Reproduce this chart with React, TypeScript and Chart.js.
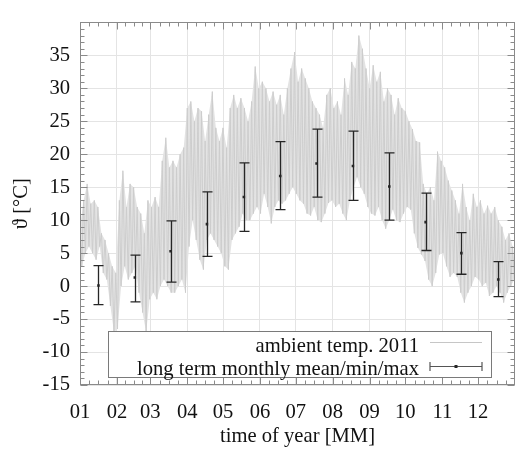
import React, { useEffect, useRef } from "react";
import { Chart, registerables } from "chart.js";

Chart.register(...registerables);

// ---- axis data ----
const monthLabels = ["01", "02", "03", "04", "05", "06", "07", "08", "09", "10", "11", "12"];
const monthStarts = [0, 31, 59, 90, 120, 151, 181, 212, 243, 273, 304, 334];
const yearDays = 365;
const yTickValues = [-15, -10, -5, 0, 5, 10, 15, 20, 25, 30, 35];
const yMin = -15;
const yMax = 40;

// ---- ambient temperature 2011 (3-day envelope: high / low readings) ----
const ambientStep = 3;
const ambientHigh = [
  9, 13, 15.5, 12.5, 13, 12, 8, 7, 5, 3, 2, 13, 17.5, 12, 15.5, 15, 12, 11, 8, 13,
  12, 13.5, 12, 19, 22.5, 18, 19, 18, 20, 21, 27, 28, 25, 27, 26.5, 22, 26, 29.5, 24, 22,
  24, 21, 27, 29, 27, 28.5, 27, 25, 28, 33.3, 30, 31, 30, 28, 29.5, 27.5, 29, 26, 30, 33,
  35.5, 31, 33, 31.5, 30, 28, 27, 26, 24, 29, 30, 27, 28, 26, 31.5, 29, 34, 33, 38, 36,
  33, 30, 33.5, 31, 32.5, 28, 30, 29, 26, 28.5, 27, 26.5, 25, 23.8, 22, 21.8, 15.5, 14, 15, 13,
  20.4, 19, 18, 16, 14.5, 13, 11, 15.5, 12, 10, 14, 12, 13, 11, 12.2, 11, 12, 10, 9, 7,
  8, 6,
];
const ambientLow = [
  3, 5, 6, 5, 4, 6, 2, 1, -3, -7, -6.5, 0, 3, 1, 2, 3, -1, -4, -7, -2,
  -1, -2, 0, 1, 0, -1, -1, 0, 1, -1, 6, 10, 7, 4, 2.5, 7, 8, 7, 6, 5,
  3, 2.5, 7, 8, 9, 11, 10, 10, 11, 12, 11, 14, 12, 9.5, 12, 13, 12.5, 13, 14, 15,
  14, 13, 12.5, 11, 10.7, 12, 10, 9.7, 11, 12.6, 13, 12, 12.5, 11, 10, 13, 15, 16.5, 15, 14,
  12, 11, 10.7, 12, 10, 8.7, 10, 11.6, 10, 9.7, 11, 12, 11.6, 8, 5.8, 4.8, 3.8, 1, 0, 2,
  4.8, 5, 3, 1.4, 2, 1.4, -1, -2.5, -1, 0, 1.4, 1, 0, 0.5, -1.5, -1, 0, -1, -2.5, -1,
  0, 1,
];

// ---- long term monthly mean / min / max ----
const monthlyPos = [15.5, 46, 76, 106.5, 137.5, 168, 198.5, 229, 259.5, 290, 320, 351];
const monthlyMean = [0.1, 1.3, 5.3, 9.4, 13.5, 16.7, 18.6, 18.2, 15.1, 9.7, 5.0, 1.0];
const monthlyMax = [3.1, 4.7, 9.9, 14.3, 18.7, 21.9, 23.8, 23.5, 20.2, 14.1, 8.1, 3.7];
const monthlyMin = [-2.8, -2.4, 0.6, 4.5, 8.3, 11.6, 13.5, 13.0, 10.0, 5.4, 1.8, -1.6];

const seriesLabels = ["ambient temp. 2011", "long term monthly mean/min/max"];

const FONT_FAMILY = "'Liberation Serif', 'DejaVu Serif', 'Times New Roman', serif";
const AMBIENT_COLOR = "#cdcdcd";
const AMBIENT_FILL = "#e3e3e3";
const BAR_COLOR = "#262626";
const AXIS_COLOR = "#8a8a8a";
const GRID_COLOR = "#e4e4e4";

const ambientPoints: { x: number; y: number }[] = [];
ambientHigh.forEach((h, i) => {
  ambientPoints.push({ x: i * ambientStep, y: h });
  ambientPoints.push({ x: i * ambientStep + ambientStep / 2, y: ambientLow[i] });
});
const meanPoints = monthlyPos.map((x, i) => ({ x, y: monthlyMean[i] }));

const bandPlugin = {
  id: "ambientBand",
  beforeDatasetsDraw(chart: any) {
    const { ctx, scales, chartArea } = chart;
    const xs = scales.x;
    const ys = scales.y;
    ctx.save();
    ctx.beginPath();
    ctx.rect(chartArea.left, chartArea.top, chartArea.right - chartArea.left, chartArea.bottom - chartArea.top);
    ctx.clip();
    ctx.fillStyle = AMBIENT_FILL;
    ctx.beginPath();
    ambientHigh.forEach((h, i) => {
      const px = xs.getPixelForValue(i * ambientStep);
      const py = ys.getPixelForValue(h);
      if (i === 0) ctx.moveTo(px, py);
      else ctx.lineTo(px, py);
    });
    for (let i = ambientLow.length - 1; i >= 0; i--) {
      ctx.lineTo(xs.getPixelForValue(i * ambientStep + ambientStep / 2), ys.getPixelForValue(ambientLow[i]));
    }
    ctx.closePath();
    ctx.fill();
    ctx.restore();
  },
};

const errorBarPlugin = {
  id: "errorBars",
  afterDatasetDraw(chart: any, args: any) {
    if (args.index !== 0) return;
    const { ctx, scales } = chart;
    const xs = scales.x;
    const ys = scales.y;
    ctx.save();
    ctx.strokeStyle = BAR_COLOR;
    ctx.lineWidth = 1.3;
    monthlyPos.forEach((p, i) => {
      const px = Math.round(xs.getPixelForValue(p)) + 0.5;
      const yTop = ys.getPixelForValue(monthlyMax[i]);
      const yBot = ys.getPixelForValue(monthlyMin[i]);
      ctx.beginPath();
      ctx.moveTo(px, yTop);
      ctx.lineTo(px, yBot);
      ctx.moveTo(px - 5, yTop);
      ctx.lineTo(px + 5, yTop);
      ctx.moveTo(px - 5, yBot);
      ctx.lineTo(px + 5, yBot);
      ctx.stroke();
    });
    ctx.restore();
  },
};

const frameLegendPlugin = {
  id: "frameLegend",
  afterDraw(chart: any) {
    const { ctx, chartArea, scales } = chart;
    const { left, right, top, bottom } = chartArea;
    const xs = scales.x;
    const ys = scales.y;
    ctx.save();
    ctx.strokeStyle = AXIS_COLOR;
    ctx.lineWidth = 1;
    const L = Math.round(left) + 0.5;
    const R = Math.round(right) - 0.5;
    const T = Math.round(top) + 0.5;
    const B = Math.round(bottom) - 0.5;
    ctx.beginPath();
    for (let v = yMin; v <= yMax; v += 1) {
      const py = Math.round(ys.getPixelForValue(v)) + 0.5;
      const len = v % 5 === 0 ? 7 : 4;
      ctx.moveTo(L, py);
      ctx.lineTo(L + len, py);
      ctx.moveTo(R, py);
      ctx.lineTo(R - len, py);
    }
    const bounds = [...monthStarts, yearDays];
    for (let m = 0; m < monthStarts.length; m++) {
      const a = bounds[m];
      const b = bounds[m + 1];
      for (let k = 0; k < 4; k++) {
        const v = a + ((b - a) * k) / 4;
        const px = Math.round(xs.getPixelForValue(v)) + 0.5;
        const len = k === 0 ? 7 : 4;
        ctx.moveTo(px, B);
        ctx.lineTo(px, B - len);
        ctx.moveTo(px, T);
        ctx.lineTo(px, T + len);
      }
    }
    ctx.stroke();
    ctx.strokeRect(L, T, R - L, B - T);

    // legend (gnuplot style key)
    const bx = 108.5;
    const by = 331.5;
    const bw = 383;
    const bh = 46;
    ctx.fillStyle = "#ffffff";
    ctx.fillRect(bx, by, bw, bh);
    ctx.strokeStyle = "#7a7a7a";
    ctx.strokeRect(bx, by, bw, bh);

    ctx.font = `20.6px ${FONT_FAMILY}`;
    ctx.fillStyle = "#111";
    ctx.textAlign = "right";
    ctx.textBaseline = "alphabetic";
    ctx.fillText(seriesLabels[0], 419, 351.5);
    ctx.fillText(seriesLabels[1], 419, 374.5);

    const s0 = 430;
    const s1 = 482;
    const r1 = 342.5;
    const r2 = 366.5;
    ctx.strokeStyle = "#c6c6c6";
    ctx.lineWidth = 1;
    ctx.beginPath();
    ctx.moveTo(s0, r1);
    ctx.lineTo(s1, r1);
    ctx.stroke();

    ctx.strokeStyle = "#555";
    ctx.lineWidth = 1.2;
    ctx.beginPath();
    ctx.moveTo(s0, r2);
    ctx.lineTo(s1, r2);
    ctx.moveTo(s0, r2 - 4.5);
    ctx.lineTo(s0, r2 + 4.5);
    ctx.moveTo(s1, r2 - 4.5);
    ctx.lineTo(s1, r2 + 4.5);
    ctx.stroke();
    ctx.fillStyle = BAR_COLOR;
    ctx.fillRect((s0 + s1) / 2 - 1.5, r2 - 1.5, 3, 3);
    ctx.restore();
  },
};

export default function App() {
  const ref = useRef<HTMLCanvasElement | null>(null);

  useEffect(() => {
    if (!ref.current) return;
    const font = { family: FONT_FAMILY, size: 20.6 };
    const chart = new Chart(ref.current, {
      type: "line",
      data: {
        datasets: [
          {
            label: seriesLabels[0],
            data: ambientPoints,
            borderColor: AMBIENT_COLOR,
            borderWidth: 1,
            pointRadius: 0,
            tension: 0,
            fill: false,
            order: 2,
          },
          {
            label: seriesLabels[1],
            type: "scatter",
            data: meanPoints,
            pointStyle: "rect",
            pointRadius: 1.8,
            backgroundColor: BAR_COLOR,
            borderColor: BAR_COLOR,
            borderWidth: 0,
            showLine: false,
            order: 1,
          } as any,
        ],
      },
      options: {
        animation: false,
        responsive: false,
        maintainAspectRatio: false,
        layout: { padding: { top: 9, right: 1, left: 0, bottom: 0 } },
        plugins: { legend: { display: false }, tooltip: { enabled: false } },
        scales: {
          x: {
            type: "linear",
            min: 0,
            max: yearDays,
            afterBuildTicks: (s: any) => {
              s.ticks = monthStarts.map((v) => ({ value: v }));
            },
            afterFit: (s: any) => {
              s.height = 65;
            },
            ticks: {
              autoSkip: false,
              maxRotation: 0,
              padding: 15,
              color: "#111",
              font,
              callback: (_v: any, i: number) => monthLabels[i],
            },
            grid: { color: GRID_COLOR, drawTicks: false },
            border: { display: false },
            title: {
              display: true,
              text: "time of year [MM]",
              color: "#111",
              font,
              padding: { top: 0, bottom: 1 },
            },
          },
          y: {
            type: "linear",
            min: yMin,
            max: yMax,
            afterBuildTicks: (s: any) => {
              s.ticks = yTickValues.map((v) => ({ value: v }));
            },
            afterFit: (s: any) => {
              s.width = 80;
            },
            ticks: {
              padding: 10,
              color: "#111",
              font,
              callback: (v: any) => String(v),
            },
            grid: { color: GRID_COLOR, drawTicks: false },
            border: { display: false },
            title: {
              display: true,
              text: "ϑ [°C]",
              color: "#111",
              font,
              padding: { top: 9, bottom: 0 },
            },
          },
        },
      },
      plugins: [bandPlugin, errorBarPlugin, frameLegendPlugin],
    });
    return () => chart.destroy();
  }, []);

  return (
    <div style={{ position: "absolute", left: 0, top: 0, width: 519, height: 450, background: "#fff" }}>
      <canvas ref={ref} width={519} height={450} style={{ display: "block" }} />
    </div>
  );
}
